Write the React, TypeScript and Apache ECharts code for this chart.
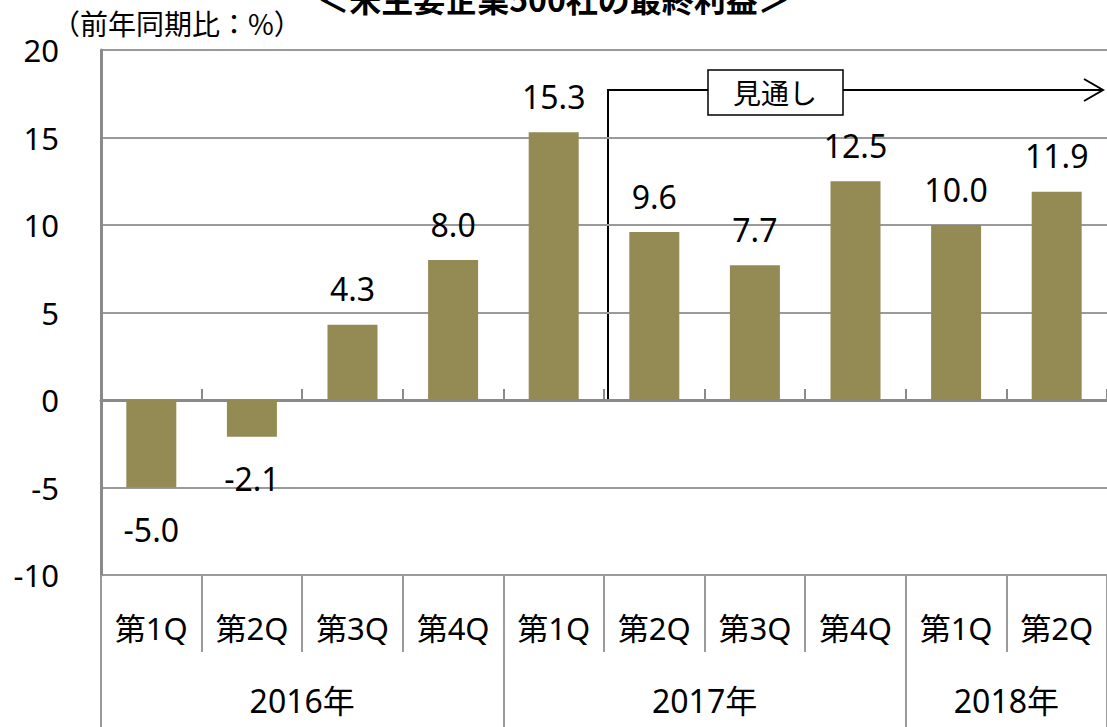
import React, { useEffect, useRef } from "react";
import * as echarts from "echarts";

const titleText = "＜米主要企業500社の最終利益＞";
const unitText = "（前年同期比：%）";
const quarters = ["第1Q", "第2Q", "第3Q", "第4Q", "第1Q", "第2Q", "第3Q", "第4Q", "第1Q", "第2Q"];
const values = [-5.0, -2.1, 4.3, 8.0, 15.3, 9.6, 7.7, 12.5, 10.0, 11.9];
const years = ["2016年", "2017年", "2018年"];
const yearSpans = [4, 4, 2];
const forecastLabel = "見通し";

const FONT = "'Noto Sans', 'Noto Sans CJK JP', sans-serif";
const CJK = "'Noto Sans CJK JP', 'Noto Sans', sans-serif";

export default function App() {
  const ref = useRef<HTMLDivElement | null>(null);

  useEffect(() => {
    if (!ref.current) return;
    const chart = echarts.init(ref.current, undefined, { renderer: "svg" });

    const boundaries: number[] = [0];
    const centers: number[] = [];
    let acc = 0;
    yearSpans.forEach((s) => {
      centers.push(acc + s / 2);
      acc += s;
      boundaries.push(acc);
    });

    const gridColor = "#9a9a9a";
    const axisColor = "#8a8a8a";

    chart.setOption({
      animation: false,
      grid: { left: 101, top: 50, width: 1016, height: 525, containLabel: false },
      xAxis: [
        {
          type: "category",
          data: quarters,
          position: "bottom",
          axisLine: { onZero: true, lineStyle: { color: axisColor, width: 3 } },
          axisTick: { show: true, inside: true, length: 11, lineStyle: { color: axisColor, width: 2 } },
          axisLabel: { show: false },
          splitLine: { show: false },
        },
        {
          type: "category",
          data: quarters,
          position: "bottom",
          axisLine: { show: false, onZero: false },
          axisTick: { show: true, length: 77, lineStyle: { color: gridColor, width: 2 } },
          axisLabel: { show: true, margin: 37, fontSize: 31, color: "#000", fontFamily: FONT },
          splitLine: { show: false },
        },
        {
          type: "value",
          min: 0,
          max: 10,
          position: "bottom",
          axisLine: { show: false, onZero: false },
          axisTick: { show: true, length: 160, customValues: boundaries, lineStyle: { color: gridColor, width: 2 } },
          axisLabel: {
            show: true,
            customValues: centers,
            margin: 109,
            fontSize: 32,
            color: "#000",
            fontFamily: FONT,
            formatter: (v: number) => {
              const i = centers.indexOf(v);
              return i >= 0 ? years[i] : "";
            },
          },
          splitLine: { show: false },
        },
      ],
      yAxis: {
        type: "value",
        min: -10,
        max: 20,
        interval: 5,
        axisLine: { show: true, lineStyle: { color: axisColor, width: 3 } },
        axisTick: { show: false },
        axisLabel: { margin: 42, fontSize: 31, color: "#000", fontFamily: FONT },
        splitLine: { show: true, lineStyle: { color: gridColor, width: 2 } },
      },
      series: [
        {
          type: "bar",
          xAxisIndex: 0,
          barWidth: 50,
          itemStyle: { color: "#948A54" },
          data: values.map((v) => ({
            value: v,
            label: {
              show: true,
              position: v < 0 ? "bottom" : "top",
              distance: v < 0 ? 26 : 20,
              fontSize: 32,
              color: "#000",
              fontFamily: FONT,
              formatter: (p: any) => Number(p.value).toFixed(1),
            },
          })),
        },
      ],
      graphic: [
        {
          type: "text",
          left: "center",
          top: -18,
          style: { text: titleText, fontSize: 32, fontWeight: "bold", fontFamily: CJK, fill: "#000" },
        },
        {
          type: "text",
          x: 52,
          y: 23,
          style: { text: unitText, fontSize: 28, fontFamily: CJK, fill: "#000", textVerticalAlign: "middle" },
        },
        {
          type: "polyline",
          shape: { points: [[608, 400], [608, 90], [708, 90]] },
          style: { stroke: "#000", lineWidth: 2, fill: "none" },
        },
        {
          type: "rect",
          shape: { x: 708, y: 70, width: 135, height: 45 },
          style: { stroke: "#000", lineWidth: 1.5, fill: "#fff" },
        },
        {
          type: "text",
          x: 775,
          y: 92,
          style: { text: forecastLabel, fontSize: 28, fontFamily: CJK, fill: "#000", textAlign: "center", textVerticalAlign: "middle" },
        },
        {
          type: "line",
          shape: { x1: 843, y1: 90, x2: 1102, y2: 90 },
          style: { stroke: "#000", lineWidth: 2 },
        },
        {
          type: "polyline",
          shape: { points: [[1084, 79], [1103, 90], [1084, 101]] },
          style: { stroke: "#000", lineWidth: 2, fill: "none" },
        },
      ],
    });

    return () => chart.dispose();
  }, []);

  return (
    <div
      ref={ref}
      style={{ position: "absolute", left: 0, top: 0, width: 1107, height: 727, background: "#fff" }}
    />
  );
}
